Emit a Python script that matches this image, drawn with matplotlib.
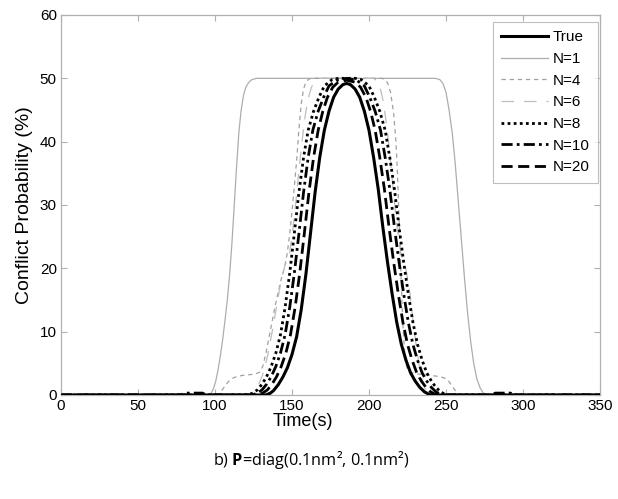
import matplotlib
matplotlib.use("Agg")
import matplotlib.pyplot as plt

# ---------------- data ----------------
true_t = [0, 133, 136, 138, 141, 144, 147, 150, 153, 156, 159, 162, 165, 168, 171, 174, 177, 180, 183, 185.5,
          188, 191, 194, 197, 200, 203, 206, 209, 212, 215, 218, 221, 224, 227, 230, 233, 236, 239, 241, 350]
true_p = [0, 0, 0.3, 0.7, 1.6, 2.8, 4.3, 6.4, 9.2, 13.5, 19, 25.5, 32, 37.5, 41.8, 44.8, 47, 48.3, 49, 49.2,
          49, 48.3, 47, 44.8, 41.8, 37.5, 32.5, 26.5, 21, 16, 11.5, 8, 5.5, 3.5, 2.2, 1.2, 0.5, 0.1, 0, 0]

n1_t = [0, 96, 97.5, 99, 100.5, 102, 103.5, 105, 106.5, 108, 109.5, 111, 112.5, 114, 115.5, 117, 118.5, 120, 122, 124, 127,
        243, 246, 248, 250, 252, 254, 256, 258, 260, 262, 264, 266, 268, 270, 272, 274, 276, 350]
n1_p = [0, 0, 0.3, 1, 2.2, 4, 6.2, 8.8, 11.8, 15, 19, 24, 30, 36, 41.5, 45, 47.3, 48.6, 49.4, 49.8, 50,
        50, 49.8, 49.2, 47.8, 45, 41.5, 36.5, 30.5, 24.5, 18.5, 13, 8.5, 5, 2.6, 1.2, 0.4, 0, 0]

n4_t = [0, 101, 103, 105, 107, 109, 111, 114, 118, 122, 126, 129, 131, 133, 135, 137, 139, 141, 143, 145, 147, 149,
        151, 153, 154.5, 156, 157.5, 159, 161, 163, 208, 210, 212, 214, 216, 217.5, 218.5, 219.5, 220.5, 221.5,
        222.5, 223.5, 225, 227, 232, 240, 246, 250, 252, 254, 256, 258, 260, 350]
n4_p = [0, 0, 0.3, 0.9, 1.6, 2.2, 2.6, 2.9, 3.1, 3.2, 3.3, 3.6, 4.5, 6.5, 9, 11.5, 14, 16.2, 18.3, 20, 22.5, 26.5,
        31.5, 37, 42, 46, 48.3, 49.4, 49.9, 50, 50, 49.9, 49.3, 47.8, 44.5, 40, 35, 28, 21, 14,
        9, 5.5, 4, 3.6, 3.3, 3.1, 2.9, 2.6, 2.1, 1.4, 0.7, 0.25, 0, 0]

n6_t = [0, 122, 125, 128, 131, 134, 137, 140, 142, 144, 145.5, 147, 148.5, 150.5, 152.5, 154.5, 156.5, 158.5, 160.5,
        162.5, 164.5, 167, 203, 205.5, 207.5, 209.5, 211.5, 213.5, 215.5, 217.5, 219.5, 221.5, 223.4, 225, 226.6,
        228.5, 230.5, 232.5, 234.5, 236.5, 238.5, 241, 350]
n6_p = [0, 0, 0.5, 1.5, 3.2, 6, 9.8, 14, 16.8, 19.2, 20.5, 21.3, 22.5, 26, 30.5, 35.5, 40, 44, 46.8,
        48.5, 49.5, 50, 50, 49.5, 48.3, 46, 42.5, 38, 33, 28, 24, 21.5, 20.5, 18.5, 16,
        12, 8, 4.8, 2.5, 1, 0.3, 0, 0]

n8_t = [0, 121, 124.5, 127.5, 130.5, 133.5, 136.5, 139.5, 142.5, 145.5, 148.5, 151.5, 154.5, 157.5, 160.5, 164, 167.5,
        171, 176, 180, 191, 195, 200, 203.5, 207, 210.5, 213.5, 216.5, 219.5, 222.5, 225.5, 228.5, 231.5, 234.5,
        237.5, 240.5, 243.5, 246.5, 249.5, 252, 350]
n8_p = [0, 0, 0.3, 0.8, 1.7, 2.9, 4.5, 6.6, 9.5, 13.8, 19.2, 25.5, 32, 37.5, 41.8, 44.8, 47,
        48.8, 49.8, 50, 50, 49.8, 48.8, 47, 44.8, 41.8, 37.5, 32.5, 26.5, 21, 16, 11.5, 8, 5.5,
        3.5, 2.2, 1.2, 0.5, 0.1, 0, 0]

n10_t = [0, 78, 80, 92, 94, 124, 127.5, 130.5, 133.5, 136.5, 139.5, 142.5, 145.5, 148.5, 151.5, 154.5, 157.5, 160.5,
         163.5, 167, 170.5, 174, 179, 185.5, 192, 197, 200.5, 204, 207.5, 210.5, 213.5, 216.5, 219.5, 222.5, 225.5,
         228.5, 231.5, 234.5, 237.5, 240.5, 243.5, 246.5, 249, 280, 282, 292, 294, 350]
n10_p = [0, 0, 0.3, 0.3, 0, 0, 0.3, 0.8, 1.7, 2.9, 4.5, 6.6, 9.5, 13.8, 19.2, 25.5, 32, 37.5,
         41.8, 44.8, 47, 48.8, 49.7, 50, 49.7, 48.8, 47, 44.8, 41.8, 37.5, 32.5, 26.5, 21, 16, 11.5,
         8, 5.5, 3.5, 2.2, 1.2, 0.5, 0.1, 0, 0, 0.3, 0.3, 0, 0]

n20_t = [0, 128, 131, 134, 137, 140, 143, 146, 149, 152, 155, 158, 161, 164, 167, 170, 173, 176.5, 180, 185.5,
         191, 194.5, 198, 201, 204, 207, 210, 213, 216, 219, 222, 225, 228, 231, 234, 237, 240, 243, 245, 350]
n20_p = [0, 0, 0.3, 0.8, 1.7, 2.9, 4.5, 6.6, 9.5, 13.8, 19.2, 25.5, 32, 37.5, 41.8, 44.8, 47, 48.6, 49.4, 49.7,
         49.4, 48.6, 47, 44.8, 41.8, 37.5, 32.5, 26.5, 21, 16, 11.5, 8, 5.5, 3.5, 2.2, 1.2, 0.5, 0.1, 0, 0]

x_ticks = [0, 50, 100, 150, 200, 250, 300, 350]
y_ticks = [0, 10, 20, 30, 40, 50, 60]
legend_labels = ["True", "N=1", "N=4", "N=6", "N=8", "N=10", "N=20"]

# ---------------- figure ----------------
plt.rcParams['font.family'] = ['Liberation Sans', 'DejaVu Sans']
plt.rcParams['mathtext.fontset'] = 'custom'
plt.rcParams['mathtext.rm'] = 'Open Sans'
plt.rcParams['mathtext.bf'] = 'Open Sans:bold'

fig = plt.figure(figsize=(6.18, 4.99), dpi=100)
ax = fig.add_axes([61 / 618, 1 - 395 / 499, (600 - 61) / 618, (395 - 15) / 499])

ax.plot(true_t, true_p, color='black', lw=2.2, label=legend_labels[0], zorder=10)
ax.plot(n1_t, n1_p, color='#adadad', lw=0.9, label=legend_labels[1])
ax.plot(n4_t, n4_p, color='#a0a0a0', lw=0.9, dashes=(3.5, 3), label=legend_labels[2])
ax.plot(n6_t, n6_p, color='#bdbdbd', lw=0.9, dashes=(10, 8), label=legend_labels[3])
ax.plot(n8_t, n8_p, color='black', lw=2.0, dashes=(1, 1.2), label=legend_labels[4])
ax.plot(n10_t, n10_p, color='black', lw=2.0, dashes=(4, 1.5, 1, 1.5), label=legend_labels[5])
ax.plot(n20_t, n20_p, color='black', lw=2.0, dashes=(4, 2), label=legend_labels[6])

ax.set_xlim(0, 350)
ax.set_ylim(0, 60)
ax.set_xticks(x_ticks)
ax.set_yticks(y_ticks)
ax.tick_params(direction='in', length=4, width=0.8, color='#b0b0b0',
               labelsize=11, top=True, right=True, pad=3)
for s in ax.spines.values():
    s.set_color('#b0b0b0')
    s.set_linewidth(0.9)

ax.set_xlabel('Time(s)', fontsize=13, va='center')
ax.xaxis.set_label_coords((303 - 61) / 539, (395 - 421) / 380)
ax.set_ylabel('Conflict Probability (%)', fontsize=14, labelpad=5)

leg = ax.legend(loc='upper right', fontsize=11, frameon=True, fancybox=False,
                edgecolor='#b0b0b0', handlelength=3.07, labelspacing=0.5,
                borderpad=0.55, handletextpad=0.3, borderaxespad=0,
                bbox_to_anchor=((598 - 61) / 539, (395 - 22) / 380))
leg.get_frame().set_linewidth(0.8)

fig.text(0.503, 1 - 460 / 499, r'b) $\mathbf{P}$=diag(0.1nm², 0.1nm²)',
         ha='center', va='center', fontsize=11.7, family='Open Sans')

fig.savefig('out.png', dpi=100)
